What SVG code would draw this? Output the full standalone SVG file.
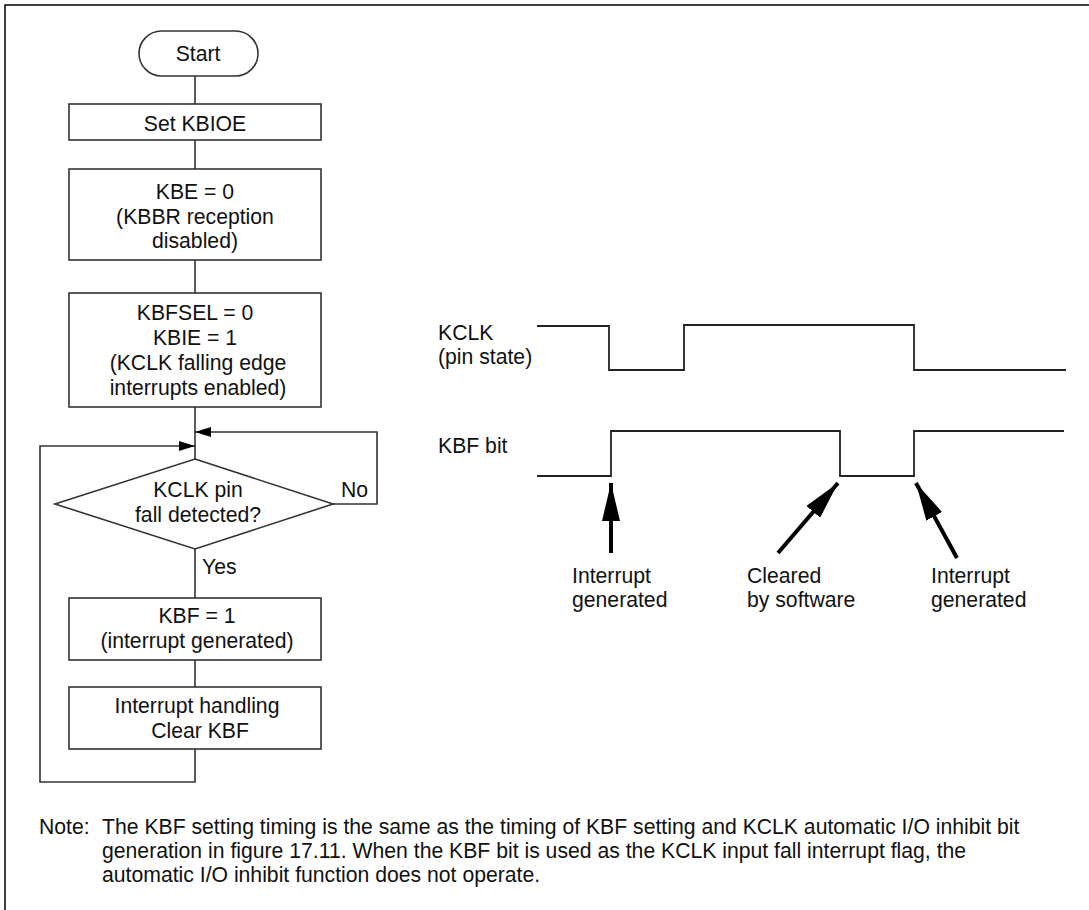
<svg xmlns="http://www.w3.org/2000/svg" width="1089" height="910" viewBox="0 0 1089 910">
<defs>
<style>
text{font-family:"Liberation Sans",Arial,sans-serif;font-size:21.2px;fill:#111}
.c{text-anchor:middle}
.box{fill:#fff;stroke:#333;stroke-width:1.6}
.ln{fill:none;stroke:#333;stroke-width:1.6}
.sig{fill:none;stroke:#222;stroke-width:1.8}
.big{fill:none;stroke:#000;stroke-width:4}
</style>
<marker id="ah" viewBox="0 0 16 10" refX="16" refY="5" markerWidth="16" markerHeight="10" markerUnits="userSpaceOnUse" orient="auto"><path d="M0,0 L16,5 L0,10 Z" fill="#000"/></marker>
<marker id="bh" viewBox="0 0 38 18" refX="38" refY="9" markerWidth="38" markerHeight="18" markerUnits="userSpaceOnUse" orient="auto"><path d="M0,0 L38,9 L0,18 Z" fill="#000"/></marker>
</defs>
<path d="M5,910 L5,5 L1089,5" fill="none" stroke="#000" stroke-width="1.5"/>
<g id="connectors">
<line class="ln" x1="195" y1="76" x2="195" y2="104"/>
<line class="ln" x1="195" y1="140" x2="195" y2="169"/>
<line class="ln" x1="195" y1="260" x2="195" y2="293"/>
<line class="ln" x1="195" y1="407" x2="195" y2="459"/>
<line class="ln" x1="195" y1="549" x2="195" y2="598"/>
<line class="ln" x1="195" y1="660" x2="195" y2="687"/>
<polyline class="ln" points="333,504 377,504 377,432 195,432" marker-end="url(#ah)"/>
<polyline class="ln" points="195,749 195,782 40,782 40,446 195,446" marker-end="url(#ah)"/>
</g>
<g id="start"><rect class="box" x="139" y="31" width="119" height="45" rx="22.5"/><text class="c" x="198" y="61">Start</text></g>
<g id="setkbioe"><rect class="box" x="69" y="104" width="252" height="36"/><text class="c" x="195" y="131">Set KBIOE</text></g>
<g id="kbe"><rect class="box" x="69" y="169" width="252" height="91"/><text class="c" x="195" y="199">KBE = 0</text><text class="c" x="195" y="224">(KBBR reception</text><text class="c" x="195" y="248">disabled)</text></g>
<g id="kbfsel"><rect class="box" x="69" y="293" width="252" height="114"/><text class="c" x="195" y="320">KBFSEL = 0</text><text class="c" x="195" y="345">KBIE = 1</text><text class="c" x="198" y="370">(KCLK falling edge</text><text class="c" x="198" y="395">interrupts enabled)</text></g>
<g id="decision"><polygon class="box" points="195,459 333,504 195,549 55,504"/><text class="c" x="198" y="497">KCLK pin</text><text class="c" x="198" y="522">fall detected?</text><text x="341" y="497">No</text><text x="202" y="574">Yes</text></g>
<g id="kbf1"><rect class="box" x="69" y="598" width="252" height="62"/><text class="c" x="197" y="623">KBF = 1</text><text class="c" x="197" y="648">(interrupt generated)</text></g>
<g id="handling"><rect class="box" x="69" y="687" width="252" height="62"/><text class="c" x="197" y="713">Interrupt handling</text><text class="c" x="200" y="738">Clear KBF</text></g>
<g id="timing">
<text x="438" y="340">KCLK</text><text x="438" y="364">(pin state)</text>
<text x="438" y="453">KBF bit</text>
<polyline class="sig" points="537,326 609,326 609,370 684,370 684,325 914,325 914,370 1066,370"/>
<polyline class="sig" points="537,476 611,476 611,431 840,431 840,476 914,476 914,431 1064,431"/>
<line class="big" x1="611" y1="553" x2="611" y2="483" marker-end="url(#bh)"/>
<line class="big" x1="778" y1="553" x2="838" y2="483" marker-end="url(#bh)"/>
<line class="big" x1="957" y1="558" x2="916" y2="483" marker-end="url(#bh)"/>
<text x="572" y="583">Interrupt</text><text x="572" y="607">generated</text>
<text x="747" y="583">Cleared</text><text x="747" y="607">by software</text>
<text x="931" y="583">Interrupt</text><text x="931" y="607">generated</text>
</g>
<g id="note">
<text x="39" y="834">Note:</text>
<text x="102" y="834">The KBF setting timing is the same as the timing of KBF setting and KCLK automatic I/O inhibit bit</text>
<text x="102" y="858">generation in figure 17.11. When the KBF bit is used as the KCLK input fall interrupt flag, the</text>
<text x="102" y="882">automatic I/O inhibit function does not operate.</text>
</g>
</svg>
